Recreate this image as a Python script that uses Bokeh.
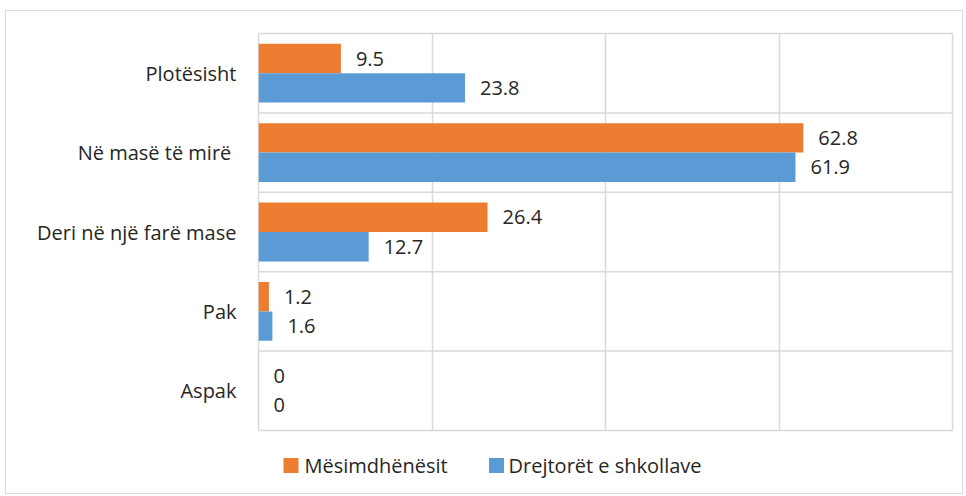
from bokeh.plotting import figure
from bokeh.layouts import column
from bokeh.models import ColumnDataSource, FixedTicker, FactorRange, Range1d
from bokeh.transform import dodge
from bokeh.core.properties import value
from bokeh.embed import file_html
from bokeh.resources import INLINE

categories = ["Plotësisht", "Në  masë të mirë", "Deri në një farë mase", "Pak", "Aspak"]
mesimdhenesit = [9.5, 62.8, 26.4, 1.2, 0]
drejtoret = [23.8, 61.9, 12.7, 1.6, 0]
series_names = ["Mësimdhënësit", "Drejtorët e shkollave"]
x_ticks = [0, 20, 40, 60, 80]

ORANGE = "#ED7D31"
BLUE = "#5B9BD5"
GRID = "#D9D9D9"
TEXT = "#262626"
FONT = "Open Sans"
W = 956
LEFT = 252
RIGHT = 10

src = ColumnDataSource(dict(
    cat=categories,
    m=mesimdhenesit,
    d=drejtoret,
    m_lbl=[f"{v:g}" for v in mesimdhenesit],
    d_lbl=[f"{v:g}" for v in drejtoret],
))
bsrc = ColumnDataSource(dict(cat=categories[1:]))

p = figure(width=W, height=429, output_backend="svg", toolbar_location=None,
           y_range=FactorRange(factors=list(reversed(categories))),
           x_range=Range1d(x_ticks[0], x_ticks[-1]),
           min_border_left=LEFT, min_border_right=RIGHT, min_border_top=22, min_border_bottom=10)

p.outline_line_color = GRID
p.outline_line_width = 1.5
p.xaxis.visible = False
p.xgrid.ticker = FixedTicker(ticks=x_ticks)
p.xgrid.grid_line_color = GRID
p.xgrid.grid_line_width = 1.5
p.ygrid.visible = False

p.yaxis.axis_line_color = None
p.yaxis.major_tick_line_color = None
p.yaxis.minor_tick_line_color = None
p.yaxis.major_tick_out = 0
p.yaxis.major_label_standoff = 22
p.yaxis.major_label_text_font = FONT
p.yaxis.major_label_text_font_size = "20px"
p.yaxis.major_label_text_color = TEXT

p.segment(x0=x_ticks[0], x1=x_ticks[-1],
          y0=dodge("cat", 0.5, range=p.y_range), y1=dodge("cat", 0.5, range=p.y_range),
          source=bsrc, line_color=GRID, line_width=1.5)

p.hbar(y=dodge("cat", 0.185, range=p.y_range), right="m", left=0, height=0.37,
       source=src, fill_color=ORANGE, line_color=None)
p.hbar(y=dodge("cat", -0.185, range=p.y_range), right="d", left=0, height=0.37,
       source=src, fill_color=BLUE, line_color=None)

for col, lbl, off in [("m", "m_lbl", 0.185), ("d", "d_lbl", -0.185)]:
    p.text(x=col, y=dodge("cat", off, range=p.y_range), text=lbl, source=src,
           x_offset=15, text_baseline="middle", text_align="left",
           text_font=value(FONT), text_font_size="20px", text_color=TEXT)

# legend strip: its frame is aligned with the main frame, so use pixel-like units
LH = 53
lg = figure(width=W, height=LH, output_backend="svg", toolbar_location=None,
            min_border_left=LEFT, min_border_right=RIGHT, min_border_top=0, min_border_bottom=0,
            x_range=Range1d(LEFT, W - RIGHT), y_range=Range1d(0, LH))
lg.axis.visible = False
lg.grid.visible = False
lg.outline_line_color = None
swatch_x = [284.5, 490]
label_x = [298, 502]
row_y = 28
lg.rect(x=swatch_x, y=[row_y] * 2, width=15, height=15, width_units="screen",
        height_units="screen", fill_color=[ORANGE, BLUE], line_color=None)
lg.text(x=label_x, y=[row_y] * 2, text=series_names, text_baseline="middle",
        text_align="left", text_font=value(FONT), text_font_size="20px", text_color=TEXT)

layout = column(p, lg, spacing=0,
                styles={"margin-left": "5px", "margin-top": "10px", "border": "1px solid #D9D9D9"})

open("out.html", "w").write(file_html(layout, INLINE))
